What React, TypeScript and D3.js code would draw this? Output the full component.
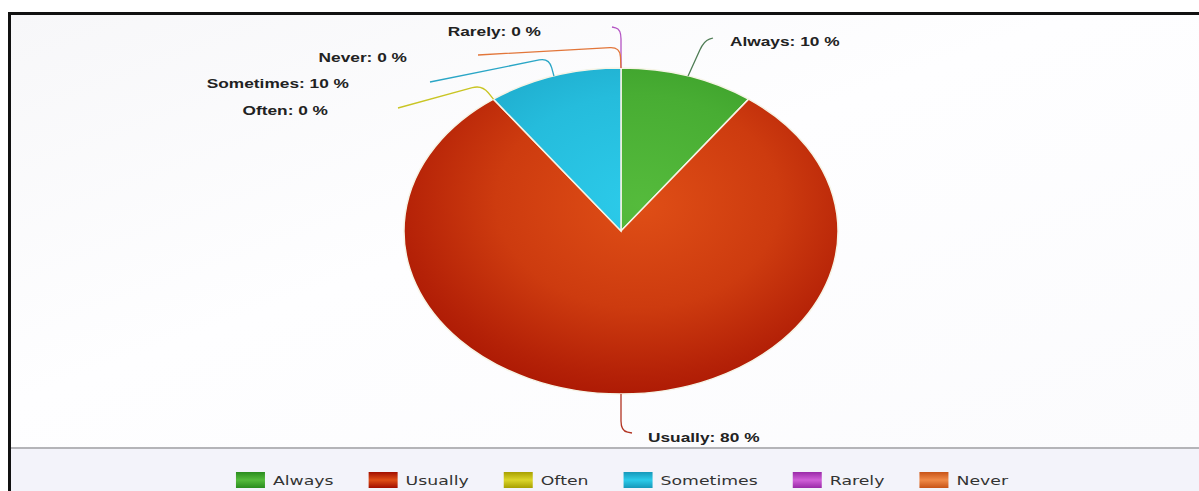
import React from "react";
import * as d3 from "d3";

const categories = ["Always", "Usually", "Often", "Sometimes", "Rarely", "Never"];
const values = [10, 80, 0, 10, 0, 0];
const lightColors = ["#55bb3c", "#df4e16", "#dcd62a", "#2ccbea", "#d060d8", "#f08a48"];
const darkColors = ["#2a8c1e", "#a20e00", "#a8a000", "#1698ba", "#9a2aa8", "#c85418"];
const lineColors = ["#4f7d55", "#b23422", "#c9c524", "#2aa6c6", "#b455c4", "#e2763a"];

// layout of leader lines / labels (screen space)
const labelLayout: Record<string, { elbow: [number, number]; end: [number, number]; text: [number, number]; anchor: string }> = {
  Always: { elbow: [704, 41], end: [713, 38], text: [730, 41], anchor: "start" },
  Usually: { elbow: [621, 431], end: [632, 433], text: [648, 437], anchor: "start" },
  Often: { elbow: [482, 85], end: [398, 108], text: [328, 110], anchor: "end" },
  Sometimes: { elbow: [549, 58], end: [430, 82], text: [349, 83], anchor: "end" },
  Never: { elbow: [620, 47], end: [478, 55], text: [407, 57], anchor: "end" },
  Rarely: { elbow: [621, 29], end: [612, 27], text: [541, 31], anchor: "end" },
};

const W = 1199;
const H = 491;
const cx = 621;
const cy = 231;
const ry = 163;
const rx = 217;
const sx = rx / ry; // horizontal stretch of the whole picture

function ellipsePoint(a: number): [number, number] {
  return [cx + rx * Math.sin(a), cy - ry * Math.cos(a)];
}

function leaderPath(start: [number, number], elbow: [number, number], end: [number, number]) {
  const toward = (from: [number, number], to: [number, number], d: number): [number, number] => {
    const dx = to[0] - from[0];
    const dy = to[1] - from[1];
    const len = Math.hypot(dx, dy) || 1;
    const t = Math.min(d, len * 0.6) / len;
    return [from[0] + dx * t, from[1] + dy * t];
  };
  const p1 = toward(elbow, start, 10);
  const p2 = toward(elbow, end, 10);
  const p = d3.path();
  p.moveTo(start[0], start[1]);
  p.lineTo(p1[0], p1[1]);
  p.quadraticCurveTo(elbow[0], elbow[1], p2[0], p2[1]);
  p.lineTo(end[0], end[1]);
  return p.toString();
}

function measure(text: string, font: string) {
  const c = document.createElement("canvas").getContext("2d");
  if (!c) return text.length * 8;
  c.font = font;
  return c.measureText(text).width;
}

export default function App() {
  const pie = d3.pie<number>().sort(null).value((d) => d)(values);
  const arc = d3.arc<d3.PieArcDatum<number>>().innerRadius(0).outerRadius(ry);

  // legend layout
  const legendFont = "13px 'DejaVu Sans'";
  const swatchW = 29 / sx;
  const gapSwatchText = 8 / sx;
  const gapItems = 35 / sx;
  const widths = categories.map((c) => swatchW + gapSwatchText + measure(c, legendFont));
  const total = d3.sum(widths) + gapItems * (categories.length - 1);
  const legendCenter = 622 / sx;
  let xCursor = legendCenter - total / 2;
  const legendX = widths.map((w) => {
    const x = xCursor;
    xCursor += w + gapItems;
    return x;
  });

  return (
    <svg width={W} height={H} style={{ position: "absolute", left: 0, top: 0, display: "block" }}>
      <defs>
        <linearGradient id="bg" x1="0" y1="0" x2="1" y2="1">
          <stop offset="0" stopColor="#f7f7f9" />
          <stop offset="0.45" stopColor="#fefeff" />
          <stop offset="1" stopColor="#fbfbfd" />
        </linearGradient>
        {categories.map((c, i) => (
          <radialGradient key={c} id={`g${i}`} gradientUnits="userSpaceOnUse" cx={10} cy={-35} r={ry * 1.45} fx={15} fy={-25}>
            <stop offset="0" stopColor={lightColors[i]} />
            <stop offset="0.45" stopColor={d3.interpolateRgb(lightColors[i], darkColors[i])(0.3)} />
            <stop offset="0.75" stopColor={d3.interpolateRgb(lightColors[i], darkColors[i])(0.7)} />
            <stop offset="1" stopColor={darkColors[i]} />
          </radialGradient>
        ))}
        {categories.map((c, i) => (
          <linearGradient key={c} id={`s${i}`} x1="0" y1="0" x2="0" y2="1">
            <stop offset="0" stopColor={darkColors[i]} />
            <stop offset="0.5" stopColor={lightColors[i]} />
            <stop offset="1" stopColor={darkColors[i]} />
          </linearGradient>
        ))}
      </defs>
      <rect x={0} y={0} width={W} height={H} fill="#ffffff" />
      <rect x={11} y={15} width={W - 11} height={433} fill="url(#bg)" />
      <rect x={11} y={449} width={W - 11} height={H - 449} fill="#f3f3fa" />
      <line x1={11} x2={W} y1={448} y2={448} stroke="#b4b4b8" strokeWidth={2} />
      <line x1={8} x2={W} y1={13.5} y2={13.5} stroke="#111" strokeWidth={3} />
      <line x1={9.5} x2={9.5} y1={12} y2={H} stroke="#111" strokeWidth={3} />

      <g transform={`translate(${cx},${cy}) scale(${sx},1)`}>
        {pie.map((d, i) =>
          d.endAngle > d.startAngle ? (
            <path
              key={categories[i]}
              d={arc(d) || ""}
              fill={`url(#g${i})`}
              stroke="#f6f4e6"
              strokeWidth={1.5}
              vectorEffect="non-scaling-stroke"
            />
          ) : null
        )}
      </g>

      {pie.map((d, i) => {
        const name = categories[i];
        const lay = labelLayout[name];
        const mid = (d.startAngle + d.endAngle) / 2;
        const start = ellipsePoint(mid);
        return (
          <g key={name}>
            <path d={leaderPath(start, lay.elbow, lay.end)} fill="none" stroke={lineColors[i]} strokeWidth={1.3} />
            <text
              transform={`translate(${lay.text[0]},${lay.text[1]}) scale(${sx},1)`}
              textAnchor={lay.anchor}
              dy="0.35em"
              fontFamily="'Liberation Sans', Arial, sans-serif"
              fontWeight="bold"
              fontSize={13}
              fill="#222"
            >
              {`${name}: ${values[i]} %`}
            </text>
          </g>
        );
      })}

      <g transform={`translate(0,0) scale(${sx},1)`}>
        {categories.map((c, i) => (
          <g key={c} transform={`translate(${legendX[i]},472)`}>
            <rect x={0} y={0} width={swatchW} height={16} fill={`url(#s${i})`} />
            <text
              x={swatchW + gapSwatchText}
              y={8}
              dy="0.36em"
              fontFamily="'DejaVu Sans', Verdana, sans-serif"
              fontSize={13}
              fill="#333"
            >
              {c}
            </text>
          </g>
        ))}
      </g>
    </svg>
  );
}
